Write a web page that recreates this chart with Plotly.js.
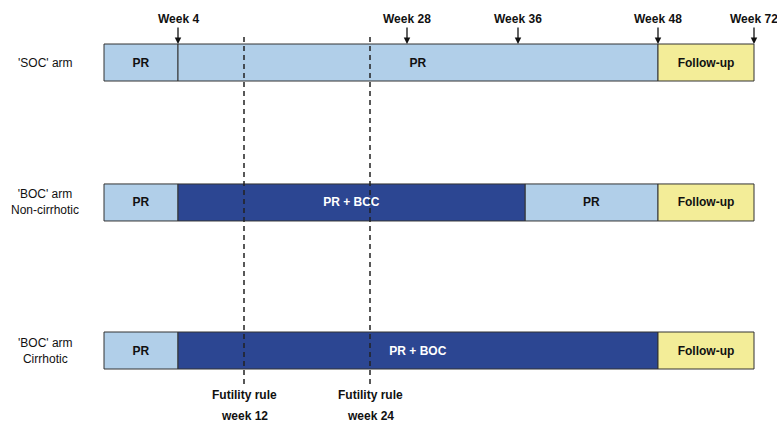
<!DOCTYPE html>
<html>
<head>
<meta charset="utf-8">
<script src="https://cdn.plot.ly/plotly-3.0.1.min.js"></script>
<style>html,body{margin:0;padding:0;background:#fff;}#chart{width:777px;height:423px;}</style>
</head>
<body>
<div id="chart"></div>
<script>
// ---- data ----
const arms = ["'SOC' arm", "'BOC' arm<br>Non-cirrhotic", "'BOC' arm<br>Cirrhotic"];
// segments: arm index, start week, end week, label, kind
const segArm   = [0, 0, 0, 1, 1, 1, 1, 2, 2, 2];
const segStart = [0, 4, 48, 0, 4, 36.6, 48, 0, 4, 48];
const segEnd   = [4, 48, 72, 4, 36.6, 48, 72, 4, 48, 72];
const segLabel = ["PR", "PR", "Follow-up", "PR", "PR + BCC", "PR", "Follow-up", "PR", "PR + BOC", "Follow-up"];
const segKind  = ["pr", "pr", "fu", "pr", "boc", "pr", "fu", "pr", "boc", "fu"];
const markerWeeks = [4, 28, 36, 48, 72];
const markerLabels = ["Week 4", "Week 28", "Week 36", "Week 48", "Week 72"];
const futilityWeeks = [12, 24];
const futilityLabels = ["week 12", "week 24"];

// ---- layout helpers (not data) ----
// schematic (non-linear) time scale: week -> axis position
const scaleWeeks = [0, 4, 12, 24, 28, 36, 48, 72];
const scalePos   = [104, 178, 244, 370, 407, 518, 658, 754];
function pos(w) {
  for (let i = 0; i < scaleWeeks.length - 1; i++) {
    if (w <= scaleWeeks[i + 1]) {
      const t = (w - scaleWeeks[i]) / (scaleWeeks[i + 1] - scaleWeeks[i]);
      return scalePos[i] + t * (scalePos[i + 1] - scalePos[i]);
    }
  }
  return scalePos[scalePos.length - 1];
}
// vertical row placement of each arm
const rowPos = [0, 0.972, 2];

const colors = {pr: '#b1cfe9', boc: '#2c4692', fu: '#f3ed98'};
const textColors = {pr: '#111111', boc: '#ffffff', fu: '#111111'};
const font = 'Arial, "Liberation Sans", sans-serif';
const barW = 0.257;

const traces = [];
['pr', 'boc', 'fu'].forEach(kind => {
  const idx = segKind.map((k, i) => k === kind ? i : -1).filter(i => i >= 0);
  traces.push({
    type: 'bar', orientation: 'h',
    y: idx.map(i => rowPos[segArm[i]]),
    base: idx.map(i => pos(segStart[i])),
    x: idx.map(i => pos(segEnd[i]) - pos(segStart[i])),
    text: idx.map(i => segLabel[i]),
    textposition: 'inside', insidetextanchor: 'middle', textangle: 0,
    constraintext: 'none',
    textfont: {family: font, size: 12, color: textColors[kind], weight: 'bold'},
    width: barW,
    marker: {color: colors[kind], line: {color: '#333333', width: 1}},
    hoverinfo: 'skip', showlegend: false
  });
});

// futility dashed lines
futilityWeeks.forEach(w => {
  traces.push({
    type: 'scatter', mode: 'lines',
    x: [pos(w), pos(w)], y: [-0.177, 2.24],
    line: {color: '#222222', width: 1.5, dash: '5px,4px'},
    hoverinfo: 'skip', showlegend: false
  });
});

const annotations = [];
arms.forEach((a, i) => {
  annotations.push({x: 45, y: rowPos[i], xref: 'x', yref: 'y', text: a, showarrow: false,
    align: 'center', font: {family: font, size: 12, color: '#111'}});
});
markerWeeks.forEach((w, i) => {
  annotations.push({x: pos(w), y: rowPos[0] - barW / 2, xref: 'x', yref: 'y', text: '<b>' + markerLabels[i] + '</b>',
    showarrow: true, ax: 0, ay: -25, arrowhead: 2, arrowsize: 1, arrowwidth: 1.3,
    arrowcolor: '#111', standoff: 0, font: {family: font, size: 12, color: '#111'}});
});
futilityWeeks.forEach((w, i) => {
  annotations.push({x: pos(w), y: 2.31, xref: 'x', yref: 'y', text: '<b>Futility rule</b>',
    showarrow: false, font: {family: font, size: 12, color: '#111'}});
  annotations.push({x: pos(w), y: 2.452, xref: 'x', yref: 'y', text: '<b>' + futilityLabels[i] + '</b>',
    showarrow: false, font: {family: font, size: 12, color: '#111'}});
});

const layout = {
  width: 777, height: 423,
  margin: {l: 0, r: 0, t: 0, b: 0},
  paper_bgcolor: '#fff', plot_bgcolor: '#fff',
  barmode: 'overlay',
  xaxis: {range: [0, 777], visible: false, fixedrange: true},
  yaxis: {range: [(423 - 62.5) / 144, -62.5 / 144], visible: false, fixedrange: true},
  annotations: annotations,
  font: {family: font}
};

Plotly.newPlot('chart', traces, layout, {staticPlot: true, displayModeBar: false});
</script>
</body>
</html>
